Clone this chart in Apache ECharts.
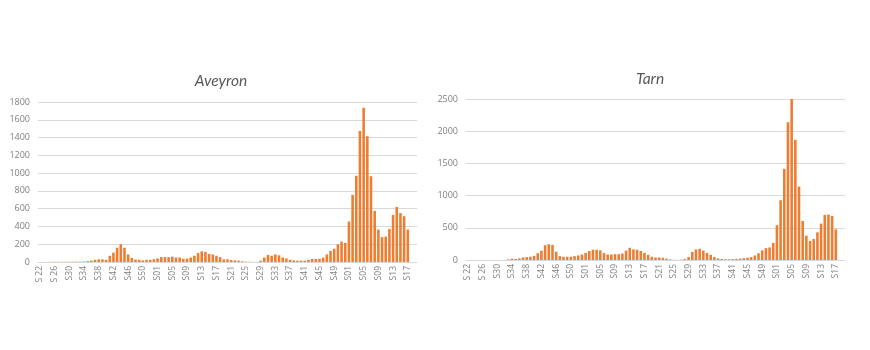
<!DOCTYPE html>
<html>
<head>
<meta charset="utf-8">
<script src="https://cdn.jsdelivr.net/npm/echarts@6/dist/echarts.min.js"></script>
<style>
  html, body { margin: 0; padding: 0; background: #ffffff; }
  #chart { width: 870px; height: 350px; }
</style>
</head>
<body>
<div id="chart"></div>
<script>
// Week labels: 2020 S22–S53, 2021 S01–S52, 2022 S01–S19
const weeks = [
  "S 22","S 23","S 24","S 25","S 26","S 27","S 28","S 29","S30","S31","S32","S33","S34","S35","S36","S37",
  "S38","S39","S40","S41","S42","S43","S44","S45","S46","S47","S48","S49","S50","S51","S52","S53",
  "S01","S02","S03","S04","S05","S06","S07","S08","S09","S10","S11","S12","S13","S14","S15","S16","S17",
  "S18","S19","S20","S21","S22","S23","S24","S25","S26","S27","S28","S29","S30","S31","S32","S33","S34",
  "S35","S36","S37","S38","S39","S40","S41","S42","S43","S44","S45","S46","S47","S48","S49","S50","S51","S52",
  "S01","S02","S03","S04","S05","S06","S07","S08","S09","S10","S11","S12","S13","S14","S15","S16","S17",
  "S18","S19"
];

// Weekly counts, Aveyron
const aveyron2020 = [0,1,1,2,3,2,2,3,3,3,4,4,6,10,15,25,30,30,25,70,105,160,200,160,85,45,28,25,18,25,25,32];
const aveyron2021 = [40,55,55,55,60,50,50,35,38,50,70,100,120,115,90,85,70,55,30,30,
                     22,18,15,8,4,2,1,2,15,50,80,70,85,75,50,40,25,18,15,15,
                     15,25,35,35,35,50,85,125,150,200,230,215];
const aveyron2022 = [455,755,970,1475,1735,1415,965,575,365,280,285,370,530,620,550,515,365,null,null];

// Weekly counts, Tarn
const tarn2020 = [0,0,0,0,0,0,0,0,0,0,2,10,20,15,25,40,45,50,65,105,145,230,245,235,130,60,50,50,50,60,70,85];
const tarn2021 = [110,140,160,160,150,110,85,85,90,90,100,145,190,165,160,140,110,80,50,40,
                  40,35,20,8,3,2,5,15,45,125,165,175,145,110,80,45,25,15,12,12,
                  15,18,22,28,35,45,70,105,150,185,195,265];
const tarn2022 = [540,928,1415,2140,2500,1865,1140,605,378,295,325,430,565,700,705,685,476,null,null];

// Value axis ticks
const aveyronTicks = { max: 1800, step: 200 };
const tarnTicks = { max: 2500, step: 500 };

const aveyron = aveyron2020.concat(aveyron2021, aveyron2022);
const tarn = tarn2020.concat(tarn2021, tarn2022);

const BAR = '#ED7D31';
const GRID_LINE = '#D9D9D9';
const LABEL = '#7F7F7F';

function xAxisFor(i) {
  return {
    type: 'category', gridIndex: i, data: weeks, boundaryGap: true,
    axisLine: { show: true, lineStyle: { color: GRID_LINE, width: 1 } },
    axisTick: { show: false },
    axisLabel: {
      interval: 3, rotate: 90, margin: 4,
      fontSize: 8.5, color: LABEL, fontFamily: 'Open Sans'
    }
  };
}
function yAxisFor(i, ticks) {
  return {
    type: 'value', gridIndex: i, min: 0, max: ticks.max, interval: ticks.step,
    axisLine: { show: false }, axisTick: { show: false },
    splitLine: { lineStyle: { color: GRID_LINE, width: 1 } },
    axisLabel: { fontSize: 9, color: LABEL, margin: 8, fontFamily: 'Open Sans',
                 formatter: v => String(v) }
  };
}

const titleStyle = { fontFamily: 'Lato', fontStyle: 'italic', fontWeight: 'normal', fontSize: 15.5, color: '#595959' };

const chart = echarts.init(document.getElementById('chart'), null, { renderer: 'canvas' });
chart.setOption({
  animation: false,
  backgroundColor: '#ffffff',
  title: [
    { text: 'Aveyron', left: 216, top: 68, textAlign: 'center', textStyle: titleStyle },
    { text: 'Tarn', left: 645, top: 66, textAlign: 'center', textStyle: titleStyle }
  ],
  grid: [
    { left: 38, top: 102, width: 379, height: 160 },
    { left: 466, top: 99, width: 379, height: 161 }
  ],
  xAxis: [xAxisFor(0), xAxisFor(1)],
  yAxis: [yAxisFor(0, aveyronTicks), yAxisFor(1, tarnTicks)],
  series: [
    { type: 'bar', xAxisIndex: 0, yAxisIndex: 0, data: aveyron, barCategoryGap: '30%',
      itemStyle: { color: BAR }, silent: true },
    { type: 'bar', xAxisIndex: 1, yAxisIndex: 1, data: tarn, barCategoryGap: '30%',
      itemStyle: { color: BAR }, silent: true }
  ]
});
</script>
</body>
</html>
